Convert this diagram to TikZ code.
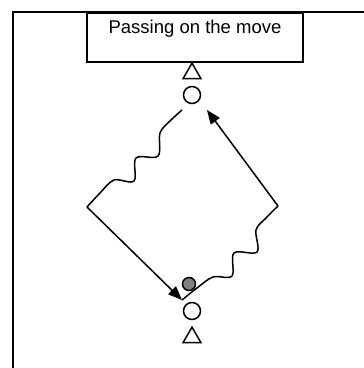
\documentclass[tikz,border=0pt]{standalone}
\usepackage{fontspec}
\setmainfont{Liberation Sans}
\usetikzlibrary{arrows.meta,shapes.geometric}
\begin{document}
\begin{tikzpicture}[x=1pt,y=-1pt,
  player/.style={circle,draw,line width=1.5pt,minimum size=17pt,inner sep=0pt,outer sep=0pt},
  cone/.style={regular polygon,regular polygon sides=3,draw,line width=1.5pt,minimum size=20.5pt,inner sep=0pt,outer sep=0pt},
  ball/.style={circle,draw,line width=1.5pt,fill=gray!100,minimum size=13pt,inner sep=0pt,outer sep=0pt},
  pass/.style={line width=1.5pt,-{Triangle[length=14pt,width=11pt]}},
  run/.style={line width=1.5pt,smooth,tension=0.55}]
\useasboundingbox (0,0) rectangle (364,368);
\clip (0,0) rectangle (364,368);
\draw[line width=1.4pt] (13,372) -- (13,12) -- (370,12);
\node[draw,line width=2pt,minimum width=216pt,minimum height=49pt,inner sep=0pt] (title) at (195,37.5) {};
\node[anchor=base,inner sep=0pt,font=\fontsize{18.5}{20}\selectfont] (titletext) at (195,33) {Passing on the move};
\node[cone] (conetop) at (192,73.4) {};
\node[player] (ptop) at (192,95) {};
\node[player] (pbot) at (192,311) {};
\node[cone] (conebot) at (192,337.4) {};
\node[ball] (ball) at (189,284) {};
\coordinate (runstart) at (182,110);
\coordinate (lcorner) at (87,207);
\coordinate (rcorner) at (278,206);
\coordinate (botjoin) at (182,300);
\coordinate (toptip) at (207,110);
\draw[run] plot coordinates {(runstart) (170,121) (160,133) (158,156) (136,158) (134,181) (114,180) (100,193) (lcorner)};
\draw[pass] (lcorner) -- (botjoin);
\draw[run] plot coordinates {(rcorner) (266,218) (256,230) (257,252) (234,253) (232,276) (213,277) (197,288) (botjoin)};
\draw[pass] (rcorner) -- (toptip);
\end{tikzpicture}
\end{document}
